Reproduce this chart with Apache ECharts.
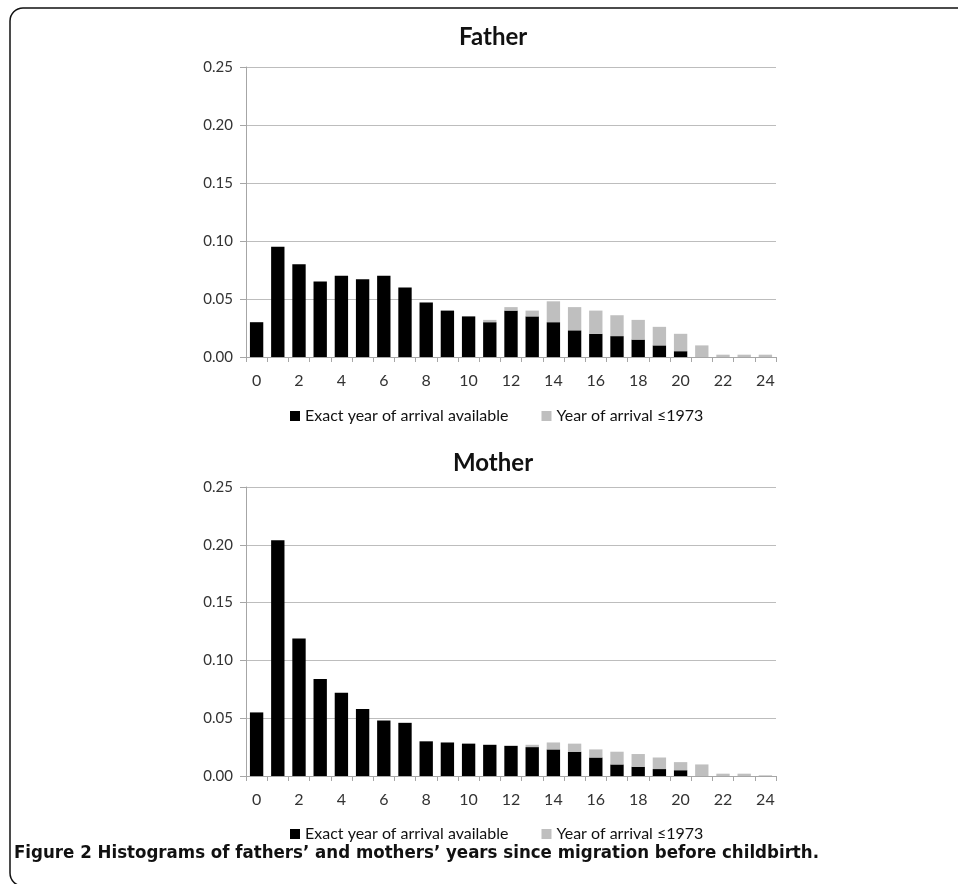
<!DOCTYPE html>
<html>
<head>
<meta charset="utf-8">
<script src="https://cdn.jsdelivr.net/npm/echarts@6/dist/echarts.min.js"></script>
<style>
html,body{margin:0;padding:0;background:#fff;}
#chart{width:958px;height:884px;}
</style>
</head>
<body>
<div id="chart"></div>
<script>
var categories = ['0','1','2','3','4','5','6','7','8','9','10','11','12','13','14','15','16','17','18','19','20','21','22','23','24'];
var fatherExact = [0.030,0.095,0.080,0.065,0.070,0.067,0.070,0.060,0.047,0.040,0.035,0.030,0.040,0.035,0.030,0.023,0.020,0.018,0.015,0.010,0.005,0,0,0,0];
var fatherPre1973 = [0,0,0,0,0,0,0,0,0,0,0,0.002,0.003,0.005,0.018,0.020,0.020,0.018,0.017,0.016,0.015,0.010,0.002,0.002,0.002];
var motherExact = [0.055,0.204,0.119,0.084,0.072,0.058,0.048,0.046,0.030,0.029,0.028,0.027,0.026,0.025,0.023,0.021,0.016,0.010,0.008,0.006,0.005,0,0,0,0];
var motherPre1973 = [0,0,0,0,0,0,0,0,0,0,0,0,0.0005,0.002,0.006,0.007,0.007,0.011,0.011,0.010,0.007,0.010,0.002,0.002,0.0006];
var yTicks = {min:0, max:0.25, interval:0.05};
var seriesNames = ['Exact year of arrival available','Year of arrival \u22641973'];
var panelTitles = ['Father','Mother'];
var caption = 'Figure 2 Histograms of fathers\u2019 and mothers\u2019 years since migration before childbirth.';

var FONT = 'Lato';
var gridColor = '#bdbdbd';
var axisColor = '#a6a6a6';
var labelColor = '#333';

function xAxis(gi){
  return {
    type:'category', gridIndex:gi, data:categories,
    axisLine:{lineStyle:{color:axisColor}},
    axisTick:{show:true, interval:0, length:5, lineStyle:{color:axisColor}},
    axisLabel:{interval:1, color:labelColor, fontSize:16, fontFamily:FONT, margin:16}
  };
}
function yAxis(gi){
  return {
    type:'value', gridIndex:gi, min:yTicks.min, max:yTicks.max, interval:yTicks.interval,
    axisLine:{show:true, lineStyle:{color:axisColor}},
    axisTick:{show:true, length:6, lineStyle:{color:axisColor}},
    splitLine:{lineStyle:{color:gridColor}},
    axisLabel:{color:labelColor, fontSize:15, fontFamily:FONT, margin:13,
      formatter:function(v){return v.toFixed(2);}}
  };
}
function bar(name, gi, data, color){
  return {
    name:name, type:'bar', stack:'s'+gi, xAxisIndex:gi, yAxisIndex:gi,
    data:data, barCategoryGap:'37%', itemStyle:{color:color},
    emphasis:{disabled:true}, animation:false
  };
}
function legend(top){
  return {
    top:top, left:285, icon:'rect', itemWidth:10, itemHeight:10, itemGap:33,
    textStyle:{fontSize:16, fontFamily:FONT, color:'#111'},
    data:[{name:seriesNames[0], itemStyle:{color:'#000'}},{name:seriesNames[1], itemStyle:{color:'#bfbfbf'}}],
    selectedMode:false
  };
}

var chart = echarts.init(document.getElementById('chart'));
chart.setOption({
  backgroundColor:'#fff',
  animation:false,
  title:[
    {text:panelTitles[0], left:454, top:20, textStyle:{fontSize:24, fontWeight:'bold', fontFamily:FONT, color:'#111'}},
    {text:panelTitles[1], left:448, top:446, textStyle:{fontSize:24, fontWeight:'bold', fontFamily:FONT, color:'#111'}}
  ],
  legend:[legend(403), legend(821)],
  grid:[
    {left:246, top:67, width:530, height:290},
    {left:246, top:487, width:530, height:289}
  ],
  xAxis:[xAxis(0), xAxis(1)],
  yAxis:[yAxis(0), yAxis(1)],
  series:[
    bar(seriesNames[0],0,fatherExact,'#000'),
    bar(seriesNames[1],0,fatherPre1973,'#bfbfbf'),
    bar(seriesNames[0],1,motherExact,'#000'),
    bar(seriesNames[1],1,motherPre1973,'#bfbfbf')
  ],
  graphic:[
    {type:'rect', shape:{x:10, y:8, width:1000, height:878, r:[13,0,0,13]},
      style:{fill:'none', stroke:'#111', lineWidth:1.5}, silent:true},
    {type:'text', left:14, top:844, style:{text:caption, fontSize:18.5, fontWeight:'bold', fontFamily:'DejaVu Sans Condensed', fill:'#111'}}
  ]
});
</script>
</body>
</html>
